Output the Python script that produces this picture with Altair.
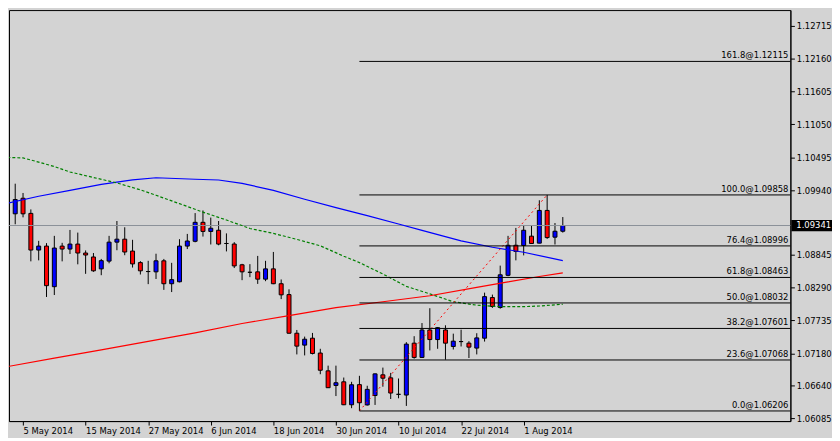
import json
import altair as alt
import pandas as pd

# ---------------- data ----------------
tick_index = [2, 10, 18, 26, 34, 42, 50, 58, 66]
tick_labels = ["5 May 2014", "15 May 2014", "27 May 2014", "6 Jun 2014", "18 Jun 2014",
               "30 Jun 2014", "10 Jul 2014", "22 Jul 2014", "1 Aug 2014"]

opens = [1.09596, 1.09539, 1.09802, 1.09546, 1.08926, 1.08993, 1.08307, 1.08993, 1.08943, 1.09027,
         1.08876, 1.08809, 1.08608, 1.08739, 1.09060, 1.09110, 1.08909, 1.08714, 1.08563, 1.08558,
         1.08744, 1.08357, 1.08390, 1.08993, 1.09074, 1.09395, 1.09241, 1.09261, 1.09037, 1.09028,
         1.08677, 1.08550, 1.08558, 1.08434, 1.08608, 1.08357, 1.08173, 1.07520, 1.07319, 1.07436,
         1.07185, 1.06884, 1.06637, 1.06699, 1.06311, 1.06651, 1.06308, 1.06467, 1.06817, 1.06766,
         1.06487, 1.06475, 1.07352, 1.07111, 1.07575, 1.07413, 1.07575, 1.07296, 1.07379, 1.07352,
         1.07269, 1.07436, 1.08123, 1.07955, 1.08499, 1.09007, 1.09003, 1.09161, 1.09043, 1.09596,
         1.09144, 1.09244]
highs = [1.09953, 1.10048, 1.09891, 1.09613, 1.09082, 1.09043, 1.09166, 1.09048, 1.09266, 1.09221,
         1.08920, 1.08876, 1.08776, 1.09166, 1.09417, 1.09311, 1.09099, 1.08739, 1.08744, 1.08864,
         1.08776, 1.08710, 1.09110, 1.09199, 1.09551, 1.09596, 1.09475, 1.09417, 1.09208, 1.09060,
         1.08693, 1.08688, 1.08827, 1.08744, 1.08894, 1.08429, 1.08262, 1.07575, 1.07463, 1.07525,
         1.07257, 1.06972, 1.06972, 1.06771, 1.06699, 1.06800, 1.06632, 1.06840, 1.06939, 1.06850,
         1.06755, 1.07369, 1.07470, 1.07692, 1.07943, 1.07625, 1.07654, 1.07513, 1.07580, 1.07386,
         1.07520, 1.08206, 1.08173, 1.08663, 1.09166, 1.09300, 1.09350, 1.09345, 1.09768, 1.09858,
         1.09383, 1.09484]
lows = [1.09506, 1.09362, 1.09479, 1.08735, 1.08752, 1.08133, 1.08166, 1.08735, 1.08859, 1.08685,
        1.08524, 1.08558, 1.08501, 1.08702, 1.08923, 1.08839, 1.08630, 1.08513, 1.08350, 1.08437,
        1.08253, 1.08216, 1.08380, 1.08943, 1.09057, 1.09154, 1.09020, 1.09007, 1.08903, 1.08622,
        1.08417, 1.08468, 1.08354, 1.08400, 1.08350, 1.08097, 1.07515, 1.07162, 1.07145, 1.07162,
        1.06827, 1.06594, 1.06458, 1.06305, 1.06253, 1.06206, 1.06298, 1.06308, 1.06616, 1.06408,
        1.06420, 1.06291, 1.07090, 1.07105, 1.07229, 1.07257, 1.07073, 1.07245, 1.07296, 1.07101,
        1.07162, 1.07379, 1.07948, 1.07935, 1.08484, 1.08752, 1.08836, 1.09030, 1.09040, 1.09115,
        1.09020, 1.09221]
closes = [1.09546, 1.09780, 1.09539, 1.08926, 1.08993, 1.08324, 1.08960, 1.08943, 1.09027, 1.08876,
          1.08842, 1.08575, 1.08747, 1.09060, 1.09110, 1.08893, 1.08692, 1.08575, 1.08563, 1.08744,
          1.08357, 1.08426, 1.08993, 1.09079, 1.09395, 1.09241, 1.09295, 1.09027, 1.09037, 1.08658,
          1.08558, 1.08550, 1.08434, 1.08608, 1.08357, 1.08169, 1.07520, 1.07302, 1.07419, 1.07178,
          1.06894, 1.06599, 1.06683, 1.06311, 1.06649, 1.06345, 1.06571, 1.06833, 1.06760, 1.06509,
          1.06487, 1.07336, 1.07111, 1.07575, 1.07413, 1.07614, 1.07352, 1.07386, 1.07379, 1.07285,
          1.07441, 1.08139, 1.07972, 1.08508, 1.09007, 1.08903, 1.09261, 1.09037, 1.09596, 1.09137,
          1.09244, 1.09341]

ma_blue_idx = [0, 4, 8, 12, 16, 19, 24, 27, 30, 34, 38, 42, 46, 50, 53, 58, 62, 66, 71]
ma_blue = [1.09718, 1.09835, 1.09936, 1.10036, 1.10112, 1.10148, 1.10123, 1.10110, 1.10053, 1.09936,
           1.09785, 1.09643, 1.09509, 1.09367, 1.09258, 1.09082, 1.08973, 1.08889, 1.08747]

ma_green_idx = [0, 2, 4, 6, 8, 11, 14, 17, 19, 22, 25, 28, 31, 34, 37, 40, 43, 45, 48, 51, 54,
                57, 60, 63, 66, 68, 71]
ma_green = [1.10493, 1.10483, 1.10413, 1.10338, 1.10246, 1.10153, 1.10061, 1.09944, 1.09852, 1.09710,
            1.09567, 1.09434, 1.09291, 1.09208, 1.09107, 1.08998, 1.08822, 1.08714, 1.08521, 1.08312,
            1.08186, 1.08052, 1.07994, 1.07969, 1.07969, 1.07980, 1.08010]

ma_red_idx = [0, 6, 12, 18, 24, 30, 36, 42, 48, 54, 60, 64, 68, 71]
ma_red = [1.06956, 1.07098, 1.07240, 1.07383, 1.07525, 1.07684, 1.07818, 1.07952, 1.08052, 1.08153,
          1.08295, 1.08387, 1.08479, 1.08541]

fib_levels = ["161.8", "100.0", "76.4", "61.8", "50.0", "38.2", "23.6", "0.0"]
fib_prices = [1.12115, 1.09858, 1.08996, 1.08463, 1.08032, 1.07601, 1.07068, 1.06206]
fib_start = 45

swing_idx = [45, 69]
swing_price = [1.06206, 1.09858]

current_price = 1.09341
y_ticks = [1.12715, 1.12160, 1.11605, 1.11050, 1.10495, 1.09940, 1.08845, 1.08290,
           1.07735, 1.07180, 1.06640, 1.06085]

# ---------------- layout constants ----------------
W, H = 789, 415
X_DOM = [0.8375, 99.4625]
Y_DOM = [1.06035, 1.12983]
FONT = "DejaVu Sans"
FS = 8.5

candles = pd.DataFrame({"k": list(range(len(opens))), "open": opens, "high": highs,
                        "low": lows, "close": closes})
candles["dir"] = ["up" if c > o else ("down" if c < o else "flat")
                  for o, c in zip(opens, closes)]

xs = alt.Scale(domain=X_DOM, nice=False, zero=False)
ys = alt.Scale(domain=Y_DOM, nice=False, zero=False)

label_expr = json.dumps(tick_labels) + "[round((datum.value - 2) / 8)]"

x_axis = alt.Axis(values=tick_index, labelExpr=label_expr, title=None, grid=False,
                  labelAlign="left", labelBaseline="top", labelPadding=2, tickSize=4,
                  labelFlush=False, labelOverlap=False, domainColor="black", tickColor="black",
                  labelColor="black", labelFont=FONT, labelFontSize=FS, orient="bottom")
y_axis = alt.Axis(values=y_ticks, format=".5f", title=None, grid=False, orient="right",
                  tickSize=4, labelPadding=2, labelOverlap=False, labelFlush=False,
                  domainColor="black", tickColor="black", labelColor="black",
                  labelFont=FONT, labelFontSize=FS)


def X(field):
    return alt.X(field, scale=xs, axis=x_axis)


def Y(field):
    return alt.Y(field, scale=ys, axis=y_axis)


wicks = alt.Chart(candles).mark_rule(color="black", strokeWidth=1, clip=True).encode(
    x=X("k:Q"), y=Y("low:Q"), y2="high:Q",
)

bodies = alt.Chart(candles).mark_bar(size=4, stroke="black", strokeWidth=1, clip=True).encode(
    x=X("k:Q"), y=Y("open:Q"), y2="close:Q",
    color=alt.Color("dir:N", legend=None,
                    scale=alt.Scale(domain=["up", "down", "flat"],
                                    range=["#0000FF", "#FF0000", "#000000"])),
)

cur_df = pd.DataFrame({"price": [current_price], "label": [f"{current_price:.5f}"],
                       "top": [current_price + 0.00095], "bot": [current_price - 0.00095]})

cur_line = alt.Chart(cur_df).mark_rule(color="#8A9098", strokeWidth=1).encode(
    y=Y("price:Q"), x=alt.value(0), x2=alt.value(W))


def ma_line(idx, vals, color, dash=None):
    df = pd.DataFrame({"k": idx, "price": vals})
    kw = dict(color=color, strokeWidth=1.2, clip=True, interpolate="linear")
    if dash:
        kw["strokeDash"] = dash
    return alt.Chart(df).mark_line(**kw).encode(x=X("k:Q"), y=Y("price:Q"))


blue_ma = ma_line(ma_blue_idx, ma_blue, "#0000FF")
green_ma = ma_line(ma_green_idx, ma_green, "#008000", [3, 2])
red_ma = ma_line(ma_red_idx, ma_red, "#FF0000")

fib_df = pd.DataFrame({"price": fib_prices,
                       "label": [f"{l}@{p:.5f}" for l, p in zip(fib_levels, fib_prices)],
                       "start": [fib_start] * len(fib_prices)})
fib_lines = alt.Chart(fib_df).mark_rule(color="black", strokeWidth=1).encode(
    x=X("start:Q"), x2=alt.value(W), y=Y("price:Q"))
fib_text = alt.Chart(fib_df).mark_text(align="right", baseline="alphabetic", dy=-3,
                                       font=FONT, fontSize=FS, color="black").encode(
    x=alt.value(W - 2), y=Y("price:Q"), text="label:N")

swing_df = pd.DataFrame({"k": swing_idx, "price": swing_price})
swing = alt.Chart(swing_df).mark_line(color="#FF0000", strokeWidth=1,
                                      strokeDash=[2, 3]).encode(x=X("k:Q"), y=Y("price:Q"))

price_box = alt.Chart(cur_df).mark_rect(color="black").encode(
    x=alt.value(W + 1), x2=alt.value(W + 42), y=Y("top:Q"), y2="bot:Q")
price_text = alt.Chart(cur_df).mark_text(align="left", baseline="middle", font=FONT,
                                         fontSize=FS, color="white").encode(
    x=alt.value(W + 6), y=Y("price:Q"), text="label:N")

chart = alt.layer(
    wicks, bodies, cur_line, blue_ma, green_ma, red_ma, swing, fib_lines, fib_text,
    price_box, price_text,
).properties(
    width=W, height=H, padding=0, background="#D3D3D3",
).configure_view(
    stroke="black", strokeWidth=1, fill="#D3D3D3",
)

chart.save("out.html", embed_options={"renderer": "svg", "actions": False})
